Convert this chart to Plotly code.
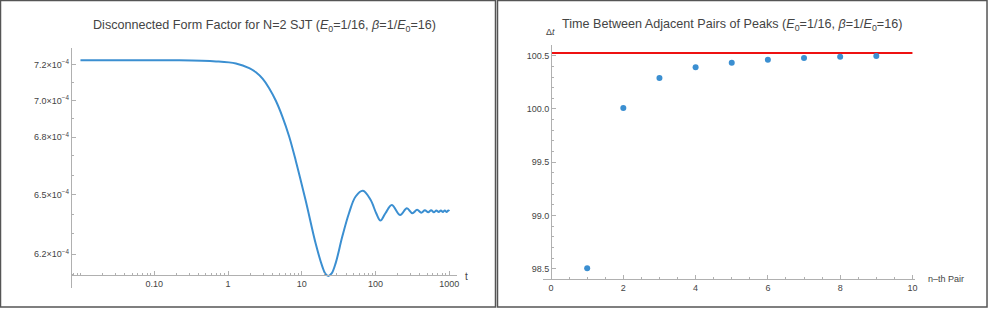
import plotly.graph_objects as go

# ---------------- data ----------------
# Left panel: disconnected form factor vs t
ff_t = [0.01, 0.05, 0.2, 0.69, 1.28, 1.94, 2.39, 2.94, 3.61, 4.45, 5.47, 6.74, 8.3,
        11.31, 15.45, 19.0, 20.8, 22.9, 25.4, 28.8, 35.4, 43.6, 53.7, 67.4, 85.5,
        102, 116.5, 136, 165.5, 215.5, 265.5, 315.5, 365.8, 416, 466.1, 516.3,
        566.5, 616.8, 667, 717.3, 767.5, 817.8, 868, 918.3, 968.5, 1000]
ff_val = [7.225e-4, 7.225e-4, 7.225e-4, 7.219e-4, 7.207e-4, 7.181e-4, 7.157e-4,
          7.121e-4, 7.068e-4, 6.998e-4, 6.910e-4, 6.804e-4, 6.674e-4, 6.467e-4,
          6.251e-4, 6.140e-4, 6.106e-4, 6.095e-4, 6.107e-4, 6.157e-4, 6.287e-4,
          6.404e-4, 6.489e-4, 6.518e-4, 6.472e-4, 6.404e-4, 6.367e-4, 6.404e-4,
          6.446e-4, 6.395e-4, 6.429e-4, 6.404e-4, 6.421e-4, 6.407e-4, 6.419e-4,
          6.409e-4, 6.419e-4, 6.409e-4, 6.418e-4, 6.410e-4, 6.418e-4, 6.410e-4,
          6.418e-4, 6.410e-4, 6.418e-4, 6.414e-4]

ff_ytick_vals = [6.2e-4, 6.5e-4, 6.8e-4, 7.0e-4, 7.2e-4]
ff_ytick_text = ["6.2×10<sup>−4</sup>", "6.5×10<sup>−4</sup>", "6.8×10<sup>−4</sup>",
                 "7.0×10<sup>−4</sup>", "7.2×10<sup>−4</sup>"]
ff_yminor = [6.1e-4, 6.3e-4, 6.4e-4, 6.6e-4, 6.7e-4, 6.9e-4, 7.1e-4, 7.3e-4]
ff_xtick_vals = [0.1, 1, 10, 100, 1000]
ff_xtick_text = ["0.10", "1", "10", "100", "1000"]
ff_xminor = [0.008, 0.009, 0.01, 0.02, 0.03, 0.04, 0.05, 0.06, 0.07, 0.08, 0.09,
             0.2, 0.3, 0.4, 0.5, 0.6, 0.7, 0.8, 0.9,
             2, 3, 4, 5, 6, 7, 8, 9, 20, 30, 40, 50, 60, 70, 80, 90,
             200, 300, 400, 500, 600, 700, 800, 900]

# Right panel: time between adjacent pairs of peaks
pair_n = [1, 2, 3, 4, 5, 6, 7, 8, 9]
pair_dt = [98.504, 100.009, 100.291, 100.391, 100.434, 100.462, 100.478, 100.491, 100.497]
ref_dt = 100.525
ref_n = [0, 10]
dt_ytick_vals = [98.5, 99.0, 99.5, 100.0, 100.5]
dt_ytick_text = ["98.5", "99.0", "99.5", "100.0", "100.5"]

# ---------------- style ----------------
W, H = 996, 309
BLUE = "#3b8fd1"
AX = "#b0b0b0"
TXT = "#444444"
FONT = "Liberation Sans, Arial, sans-serif"


def px(x):
    return x / W


def py(y):
    return 1 - y / H


fig = go.Figure()

fig.add_trace(go.Scatter(x=ff_t, y=ff_val, mode="lines",
                         line=dict(color=BLUE, width=2, shape="spline", smoothing=1.0),
                         xaxis="x", yaxis="y", showlegend=False, hoverinfo="skip"))

fig.add_trace(go.Scatter(x=ref_n, y=[ref_dt, ref_dt], mode="lines",
                         line=dict(color="#ee1111", width=2),
                         xaxis="x2", yaxis="y2", showlegend=False, hoverinfo="skip"))
fig.add_trace(go.Scatter(x=pair_n, y=pair_dt, mode="markers",
                         marker=dict(color=BLUE, size=6),
                         xaxis="x2", yaxis="y2", showlegend=False, hoverinfo="skip"))

common = dict(showgrid=False, zeroline=False, showline=True, linecolor=AX, linewidth=1,
              ticks="inside", tickcolor=AX, tickfont=dict(size=9, color=TXT, family=FONT))

fig.update_layout(
    width=W, height=H, margin=dict(l=0, r=0, t=0, b=0),
    paper_bgcolor="white", plot_bgcolor="white",
    font=dict(family=FONT, color=TXT),
    xaxis=dict(type="log", domain=[px(72), px(458)], range=[-2.1176, 3.0986],
               anchor="free", position=py(275),
               tickmode="array", tickvals=ff_xtick_vals, ticktext=ff_xtick_text,
               ticklen=4,
               minor=dict(tickmode="array", tickvals=ff_xminor, ticks="inside",
                          ticklen=2, tickcolor=AX, showgrid=False),
               **common),
    yaxis=dict(type="log", domain=[py(288), py(48)], range=[-3.21917, -3.13694],
               anchor="x",
               tickmode="array", tickvals=ff_ytick_vals, ticktext=ff_ytick_text,
               ticklen=4,
               minor=dict(tickmode="array", tickvals=ff_yminor, ticks="inside",
                          ticklen=2, tickcolor=AX, showgrid=False),
               **common),
    xaxis2=dict(domain=[px(545), px(918)], range=[-0.2124, 10.0772], anchor="y2",
                tickmode="linear", tick0=0, dtick=2, ticklen=4,
                minor=dict(tick0=0, dtick=0.5, ticks="inside", ticklen=2,
                           tickcolor=AX, showgrid=False),
                **common),
    yaxis2=dict(domain=[py(278.7), py(45)], range=[98.406, 100.6005],
                anchor="free", position=px(552.7),
                tickmode="array", tickvals=dt_ytick_vals, ticktext=dt_ytick_text,
                ticklen=4,
                minor=dict(tick0=98.5, dtick=0.1, ticks="inside", ticklen=2,
                           tickcolor=AX, showgrid=False),
                **common),
)

annots = [
    dict(text="Disconnected Form Factor for N=2 SJT (<i>E</i><sub>0</sub>=1/16, <i>β</i>=1/<i>E</i><sub>0</sub>=16)",
         x=px(265), y=py(26), font=dict(size=12.6, color=TXT)),
    dict(text="Time Between Adjacent Pairs of Peaks (<i>E</i><sub>0</sub>=1/16, <i>β</i>=1/<i>E</i><sub>0</sub>=16)",
         x=px(734), y=py(25), font=dict(size=12.6, color=TXT)),
    dict(text="t", x=px(468), y=py(276), font=dict(size=10, color=TXT)),
    dict(text="Δ<i>t</i>", x=px(552), y=py(32), font=dict(size=9, color=TXT)),
    dict(text="n–th Pair", x=px(929), y=py(279), xanchor="left", font=dict(size=9, color=TXT)),
]
for a in annots:
    a.setdefault("xanchor", "center")
    fig.add_annotation(xref="paper", yref="paper", showarrow=False, yanchor="middle", **a)

# panel frames
fig.add_shape(type="rect", xref="paper", yref="paper",
              x0=px(0.5), x1=px(497), y0=py(307), y1=py(0.5),
              line=dict(color="#555555", width=1.5))
fig.add_shape(type="rect", xref="paper", yref="paper",
              x0=px(499), x1=px(990), y0=py(307), y1=py(0.5),
              line=dict(color="#555555", width=1.5))

fig.write_html("out.html", config={"displayModeBar": False},
               post_script="document.body.style.margin='0';document.body.style.overflow='hidden';")
